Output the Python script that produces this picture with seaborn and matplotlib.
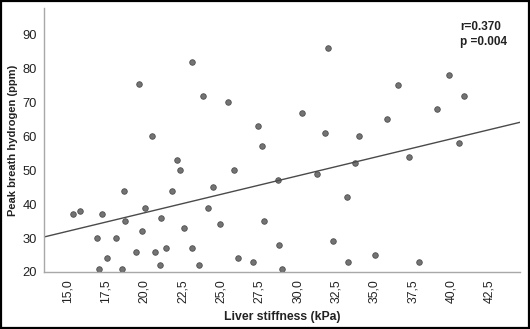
import matplotlib
matplotlib.use("Agg")
import matplotlib.pyplot as plt
import seaborn as sns
import pandas as pd
from matplotlib.patches import Rectangle

liver_stiffness = [23.13, 19.67, 23.85, 20.48, 31.97, 25.48, 30.25, 27.4, 31.75, 33.97,
                   27.7, 39.89, 36.56, 40.82, 39.08, 35.84, 40.5, 22.11, 22.31, 18.67,
                   21.81, 24.5, 15.33, 15.82, 17.26, 20.07, 18.76, 21.09, 24.16, 16.93,
                   18.17, 19.87, 22.61, 19.46, 20.7, 21.42, 23.11, 17.57, 21.02, 23.55,
                   17.02, 18.56, 25.87, 28.71, 31.25, 33.71, 33.19, 24.96, 27.81, 32.3,
                   28.79, 26.1, 27.1, 33.3, 29.0, 37.26, 35.01, 37.88]
peak_h2 = [82, 75.5, 72, 60, 86, 70, 67, 63, 61, 60,
           57, 78, 75, 72, 68, 65, 58, 53, 50, 44,
           44, 45, 37, 38, 37, 39, 35, 36, 39, 30,
           30, 32, 33, 26, 26, 27, 27, 24, 22, 22,
           21, 21, 50, 47, 49, 52, 42, 34, 35, 29,
           28, 24, 23, 23, 21, 54, 25, 23]
x_ticks = [15.0, 17.5, 20.0, 22.5, 25.0, 27.5, 30.0, 32.5, 35.0, 37.5, 40.0, 42.5]
y_ticks = [20, 30, 40, 50, 60, 70, 80, 90]
stats_text = "r=0.370\np =0.004"

df = pd.DataFrame({"Liver stiffness (kPa)": liver_stiffness,
                   "Peak breath hydrogen (ppm)": peak_h2})

sns.set_style("white")
plt.rcParams['font.family'] = ['Liberation Sans', 'DejaVu Sans']

fig = plt.figure(figsize=(5.30, 3.29), dpi=100)
ax = fig.add_axes([44/530, 1 - 272/329, (520 - 44)/530, (272 - 8)/329])
ax.set_xlim(13.45, 44.5)
ax.set_ylim(20, 97.8)

sns.regplot(data=df, x="Liver stiffness (kPa)", y="Peak breath hydrogen (ppm)",
            ax=ax, ci=None, truncate=False,
            scatter_kws=dict(s=16, color="#737373", edgecolor="#4f4f4f", linewidths=0.6, alpha=1),
            line_kws=dict(color="#4a4a4a", linewidth=1.0))

ax.set_xlim(13.45, 44.5)
ax.set_ylim(20, 97.8)
ax.set_xticks(x_ticks)
ax.set_xticklabels([f"{t:.1f}".replace(".", ",") for t in x_ticks], rotation=90, fontsize=8.8, color="#222222")
ax.set_yticks(y_ticks)
ax.set_yticklabels([str(t) for t in y_ticks], fontsize=9.3, color="#222222")
ax.set_xlabel("Liver stiffness (kPa)", fontsize=8.8, fontweight="bold", color="#222222", labelpad=6)
ax.set_ylabel("Peak breath hydrogen (ppm)", fontsize=8.0, fontweight="bold", color="#222222", labelpad=3.5)

for s in ["top", "right"]:
    ax.spines[s].set_visible(False)
for s in ["left", "bottom"]:
    ax.spines[s].set_color("#a8a8a8")
    ax.spines[s].set_linewidth(1.0)
ax.tick_params(axis="both", length=3, width=0.8, color="#a8a8a8", pad=2)

ax.text(460/530, 1 - 21/329, stats_text, transform=fig.transFigure, fontsize=8.5,
        fontweight="bold", color="#222222", va="top", ha="left", linespacing=1.35)

fig.patches.append(Rectangle((0.002, 0.003), 0.996, 0.994, transform=fig.transFigure,
                             fill=False, edgecolor="black", linewidth=1.6))

fig.savefig("out.png", dpi=100)
